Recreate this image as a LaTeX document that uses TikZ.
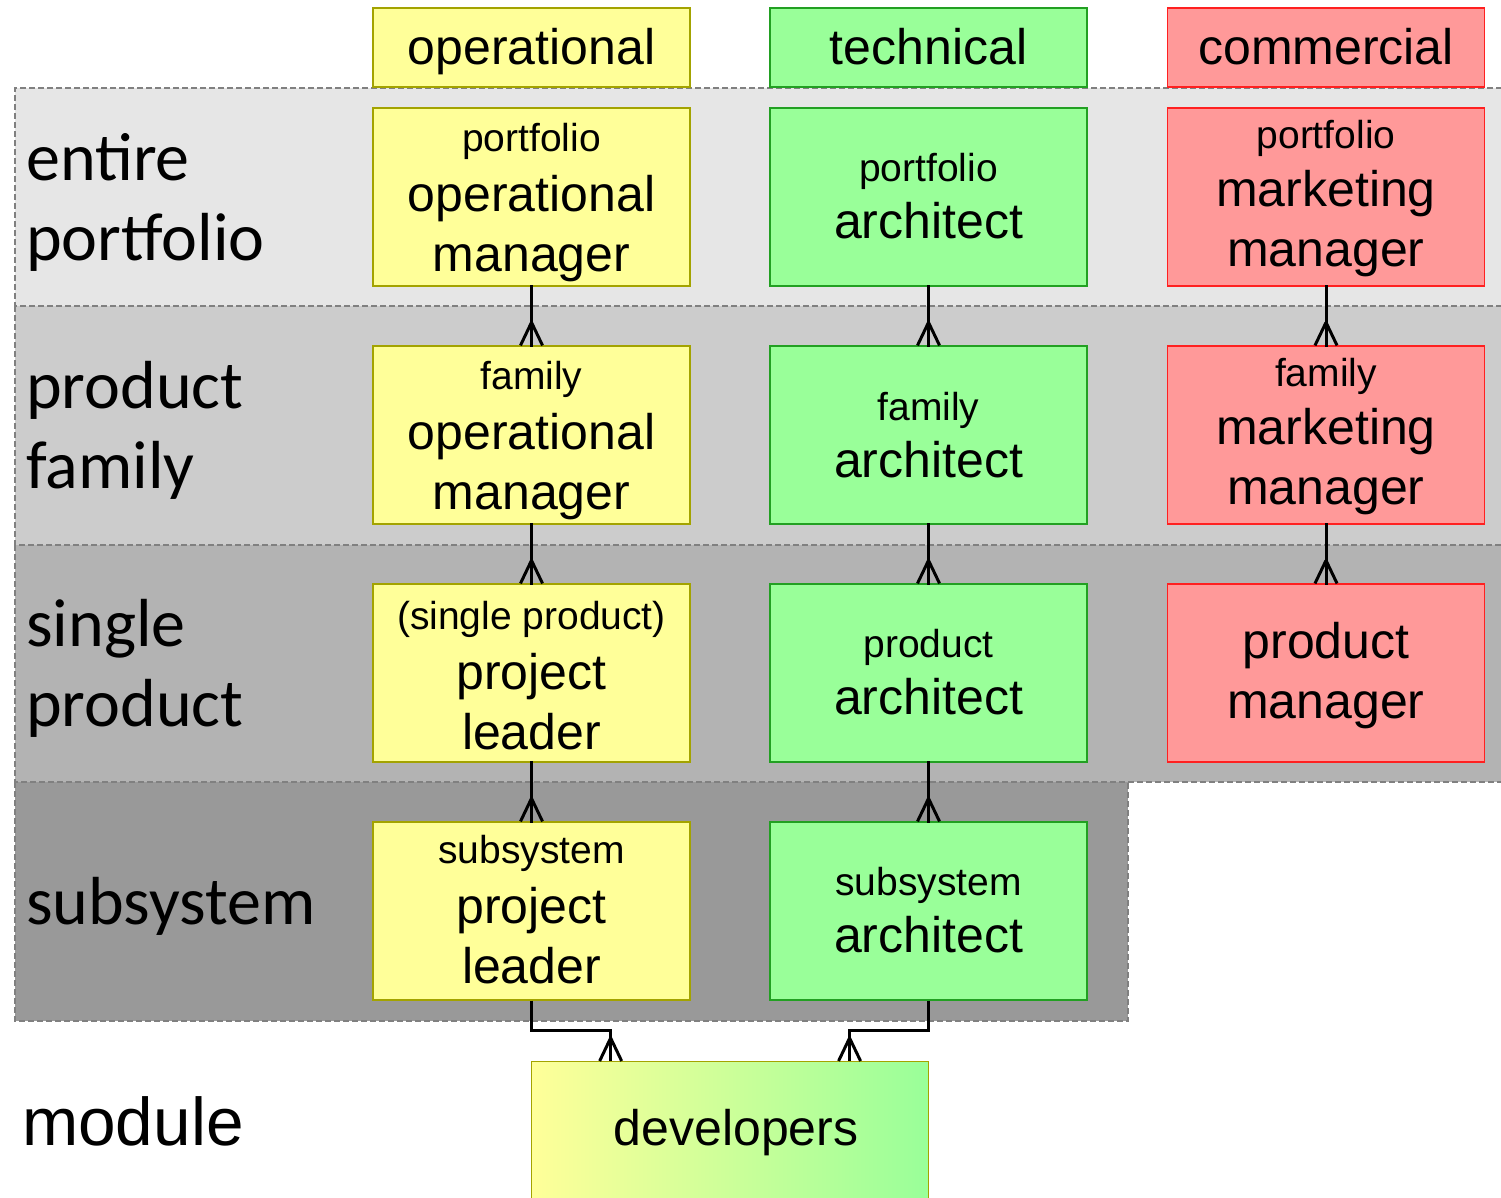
\documentclass[tikz,border=0pt]{standalone}
\usepackage{fontspec}
\setmainfont{Liberation Sans}
\newfontfamily\carlfont{Carlito}
\usetikzlibrary{calc}
\definecolor{yelF}{HTML}{FFFF99}
\definecolor{yelD}{HTML}{A3A300}
\definecolor{grnF}{HTML}{99FF99}
\definecolor{grnD}{HTML}{22A022}
\definecolor{redF}{HTML}{FF9999}
\definecolor{redD}{HTML}{FF2020}
\definecolor{bandA}{HTML}{E6E6E6}
\definecolor{bandB}{HTML}{CCCCCC}
\definecolor{bandC}{HTML}{B3B3B3}
\definecolor{bandD}{HTML}{999999}
\definecolor{bandLine}{HTML}{808080}
\newcommand{\bigtxt}{\fontsize{50}{60}\selectfont}
\newcommand{\smtxt}[1]{{\fontsize{39}{39}\selectfont #1}}
\tikzset{
  rolebox/.style={draw, line width=1.2pt, minimum width=317pt, minimum height=178pt, inner sep=0pt},
  boxtxt/.style={inner sep=0pt, align=center, font=\bigtxt},
  hdrbox/.style={draw, line width=1.2pt, minimum width=317pt, minimum height=79pt, inner sep=0pt,
    font=\bigtxt, text height=43pt, text depth=10pt},
  yel/.style={fill=yelF, draw=yelD},
  grn/.style={fill=grnF, draw=grnD},
  rd/.style={fill=redF, draw=redD},
  band/.style={draw=bandLine, dash pattern=on 6pt off 3pt, line width=2.4pt},
  lvl/.style={anchor=west, align=left, inner sep=0pt, font=\carlfont\fontsize{68}{80}\selectfont},
  conn/.style={line width=3pt, line cap=rect},
  pics/crowfoot/.style={code={\draw[line width=3pt] (0,-23) -- (-11,0) (0,-23) -- (11,0);}}
}
\begin{document}
\begin{tikzpicture}[x=1pt, y=-1pt]
\useasboundingbox (0,0) rectangle (1501,1197);
\clip (0,0) rectangle (1501,1197);
% bands
\fill[bandA] (15,88) rectangle (1520,306);
\fill[bandB] (15,306) rectangle (1520,545);
\fill[bandC] (15,545) rectangle (1520,782);
\fill[bandD] (15,782) rectangle (1128,1021);
\draw[band] (1520,88) -- (15,88) -- (15,306) -- (1520,306);
\draw[band] (15,306) -- (15,545) -- (1520,545);
\draw[band] (15,545) -- (15,782) -- (1520,782);
\draw[band] (15,782) -- (15,1021) -- (1128,1021) -- (1128,782);
% level labels
\node[lvl] (lvA) at (26,202) {entire\\portfolio};
\node[lvl] (lvB) at (26,430) {product\\family};
\node[lvl] (lvC) at (26,668) {single\\product};
\node[lvl] (lvD) at (26,906) {subsystem};
\node[anchor=west, inner sep=0pt, font=\fontsize{67.5}{80}\selectfont] (lvE) at (22,1121) {module};
% headers
\node[hdrbox, yel] (hOp) at (531.5,47.5) {operational};
\node[hdrbox, grn] (hTe) at (928.5,47.5) {technical};
\node[hdrbox, rd] (hCo) at (1326,47.5) {commercial};
% role boxes
\node[rolebox, yel] (op1) at (531.5,197) {};
\node[rolebox, grn] (te1) at (928.5,197) {};
\node[rolebox, rd]  (co1) at (1326,197) {};
\node[rolebox, yel] (op2) at (531.5,435) {};
\node[rolebox, grn] (te2) at (928.5,435) {};
\node[rolebox, rd]  (co2) at (1326,435) {};
\node[rolebox, yel] (op3) at (531.5,673) {};
\node[rolebox, grn] (te3) at (928.5,673) {};
\node[rolebox, rd]  (co3) at (1326,673) {};
\node[rolebox, yel] (op4) at (531.5,911) {};
\node[rolebox, grn] (te4) at (928.5,911) {};
% role texts
\node[boxtxt] (op1t) at ([yshift=-6pt]op1.center) {\smtxt{portfolio}\\operational\\manager};
\node[boxtxt] (te1t) at ([yshift=1pt]te1.center) {\smtxt{portfolio}\\[-3pt]architect};
\node[boxtxt] (co1t) at ([yshift=-2pt]co1.center) {\smtxt{portfolio}\\[-2pt]marketing\\manager};
\node[boxtxt] (op2t) at ([yshift=-6pt]op2.center) {\smtxt{family}\\operational\\manager};
\node[boxtxt] (te2t) at ([yshift=0pt]te2.center) {\smtxt{family}\\[-3pt]architect};
\node[boxtxt] (co2t) at ([yshift=-2pt]co2.center) {\smtxt{family}\\[-2pt]marketing\\manager};
\node[boxtxt] (op3t) at ([yshift=-3pt]op3.center) {\smtxt{(single product)}\\project\\leader};
\node[boxtxt] (te3t) at ([yshift=1pt]te3.center) {\smtxt{product}\\[-3pt]architect};
\node[boxtxt] (co3t) at ([yshift=-3pt]co3.center) {product\\manager};
\node[boxtxt] (op4t) at ([yshift=1pt]op4.center) {\smtxt{subsystem}\\project\\leader};
\node[boxtxt] (te4t) at ([yshift=1pt]te4.center) {\smtxt{subsystem}\\[-3pt]architect};
% developers
\node[draw=yelD, line width=1.2pt, left color=yelF, right color=grnF, minimum width=397pt,
  minimum height=150pt, inner sep=0pt, anchor=north west] (dev) at (531,1061) {};
\node[font=\bigtxt, inner sep=0pt] (devt) at (736,1133) {developers};
\coordinate (d1) at ($(dev.north west)!0.2!(dev.north east)$);
\coordinate (d2) at ($(dev.north west)!0.8!(dev.north east)$);
% connectors
\foreach \a/\b in {op1/op2, op2/op3, op3/op4, te1/te2, te2/te3, te3/te4, co1/co2, co2/co3}{
  \draw[conn] (\a.south) -- (\b.north);
  \pic at (\b.north) {crowfoot};
}
\draw[conn, line cap=butt] (op4.south) -- ++(0,30) -| (d1);
\draw[conn, line cap=butt] (te4.south) -- ++(0,30) -| (d2);
\pic at (d1) {crowfoot};
\pic at (d2) {crowfoot};
\end{tikzpicture}
\end{document}
